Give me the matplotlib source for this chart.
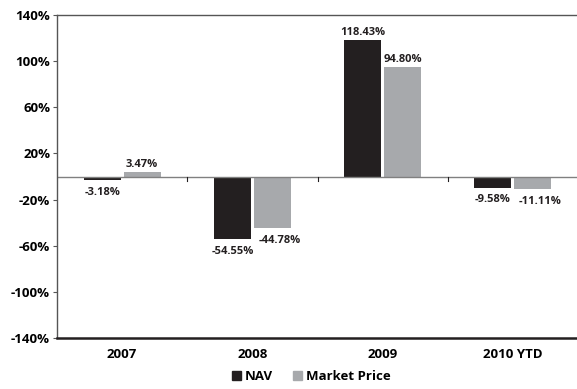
import matplotlib.pyplot as plt
import numpy as np
from matplotlib.patches import Patch

categories = ['2007', '2008', '2009', '2010 YTD']
nav = [-3.18, -54.55, 118.43, -9.58]
market = [3.47, -44.78, 94.80, -11.11]
yticks = [-140, -100, -60, -20, 20, 60, 100, 140]

dark = '#231f20'
gray = '#a7a9ac'

plt.rcParams['font.family'] = ['Open Sans', 'DejaVu Sans']

fig = plt.figure(figsize=(5.77, 3.89), dpi=100)
ax = fig.add_axes([57 / 577, 1 - 338 / 389, 521 / 577, 323 / 389])

x = np.arange(len(categories))
w = 0.285
off = 0.154
b1 = ax.bar(x - off, nav, w, color=dark, label='NAV')
b2 = ax.bar(x + off, market, w, color=gray, label='Market Price')

# value labels; market-price labels below the axis sit a little to the right
for bars, vals, shift in ((b1, nav, 0.0), (b2, market, 0.055)):
    for r, v in zip(bars, vals):
        cx = r.get_x() + r.get_width() / 2
        if v >= 0:
            ax.text(cx, v + 2, f'{v:.2f}%', ha='center', va='bottom',
                    fontsize=8, fontweight='bold', color='#231f20')
        else:
            ax.text(cx + shift, v - 6, f'{v:.2f}%', ha='center', va='top',
                    fontsize=8, fontweight='bold', color='#231f20')

ax.axhline(0, color='#808080', lw=1)
for b in [0.5, 1.5, 2.5]:
    ax.plot([b, b], [-4, 0], color='#231f20', lw=0.8)

ax.set_xlim(-0.5, 3.5)
ax.set_ylim(-140, 140)
ax.set_yticks(yticks)
ax.set_yticklabels([f'{t}%' for t in yticks], fontsize=9.5, fontweight='bold')
ax.set_xticks(x)
ax.set_xticklabels(categories, fontsize=9.5, fontweight='bold')
ax.tick_params(axis='x', length=0, pad=7)
ax.tick_params(axis='y', length=3, width=0.8, color='#555555', pad=2)

ax.spines['right'].set_visible(False)
ax.spines['top'].set_color('#555555')
ax.spines['top'].set_linewidth(1)
ax.spines['left'].set_color('#555555')
ax.spines['left'].set_linewidth(1)
ax.spines['bottom'].set_color('#231f20')
ax.spines['bottom'].set_linewidth(1.8)

handles = [Patch(color=dark, label='NAV'), Patch(color=gray, label='Market Price')]
fig.legend(handles=handles, loc='lower center', bbox_to_anchor=(0.54, -0.015), ncol=2,
           frameon=False, handlelength=0.7, handleheight=0.7, handletextpad=0.3,
           columnspacing=1.5, prop={'size': 9.5, 'weight': 'bold'})

fig.savefig('out.png', dpi=100)
